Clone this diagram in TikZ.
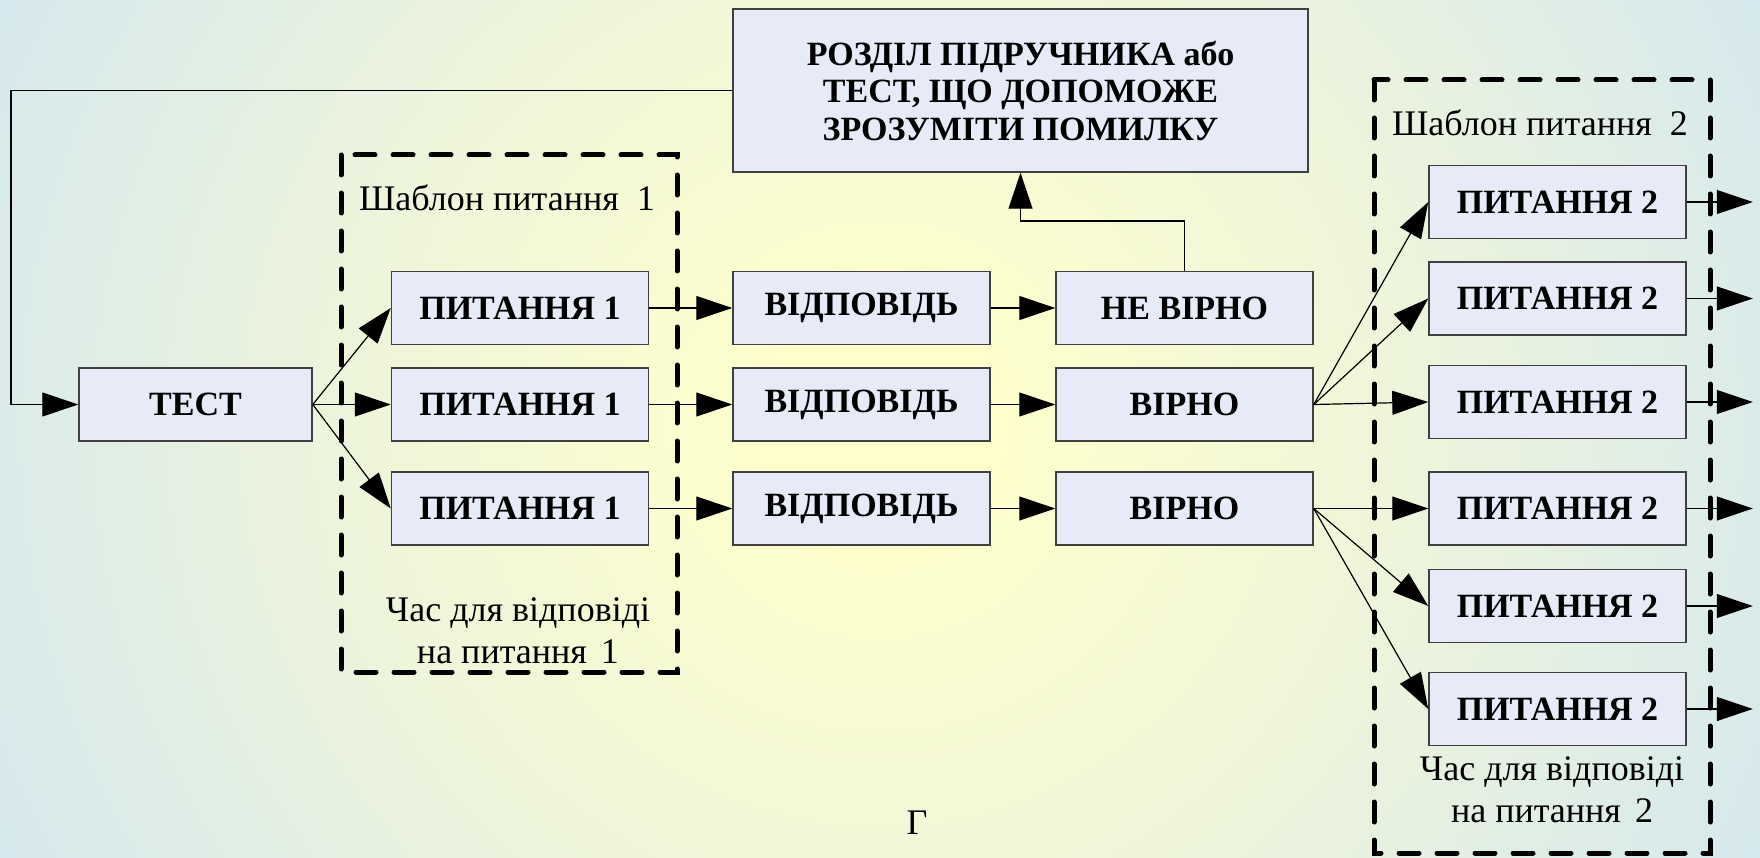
\documentclass[tikz,border=0pt]{standalone}
\usepackage{fontspec}
\setmainfont{Liberation Serif}[BoldFont={Liberation Serif Bold}]
\usetikzlibrary{arrows.meta}
\definecolor{bgin}{HTML}{FFFFCC}
\definecolor{bgmid}{HTML}{EEF5DA}
\definecolor{bgout}{HTML}{CFE5F3}
\definecolor{boxfill}{HTML}{E6EBF7}
\definecolor{boxline}{HTML}{404040}
\pgfdeclareradialshading{bgshade}{\pgfpointorigin}{color(0bp)=(bgin); color(3bp)=(bgin); color(14bp)=(bgmid); color(30bp)=(bgout); color(50bp)=(bgout)}
\begin{document}
\begin{tikzpicture}[x=1pt,y=-1pt,
  box/.style={draw=boxline, line width=1.5pt, fill=boxfill, minimum width=257pt, minimum height=73pt, inner sep=0pt, font=\fontsize{34}{37.5}\selectfont\bfseries},
  arr/.style={draw=black, line width=1.2pt, -{Triangle[length=36pt,width=24pt]}},
  frame/.style={draw=black, line width=5pt, dash pattern=on 20pt off 18pt, line cap=round},
  lbl/.style={font=\fontsize{36}{42}\selectfont, inner sep=0pt, align=center}]
\begin{scope}
\clip (0,0) rectangle (1760,858);
\shade[shading=bgshade] (-40,-471) rectangle (1800,1329);
\end{scope}
\useasboundingbox (0,0) rectangle (1760,858);

% boxes
\node[box, minimum width=575pt, minimum height=163pt, align=center] (top) at (1020.5,90.5) {РОЗДІЛ ПІДРУЧНИКА або\\ТЕСТ, ЩО ДОПОМОЖЕ\\ЗРОЗУМІТИ ПОМИЛКУ};
\node[box, minimum width=233pt] (test) at (195.5,404.5) {ТЕСТ};
\node[box] (q1a) at (520,308) {ПИТАННЯ 1};
\node[box] (q1b) at (520,404.5) {ПИТАННЯ 1};
\node[box] (q1c) at (520,508.5) {ПИТАННЯ 1};
\node[box] (ansa) at (861.5,308) {ВІДПОВІДЬ};
\node[box] (ansb) at (861.5,404.5) {ВІДПОВІДЬ};
\node[box] (ansc) at (861.5,508.5) {ВІДПОВІДЬ};
\node[box] (resa) at (1184.5,308) {НЕ ВІРНО};
\node[box] (resb) at (1184.5,404.5) {ВІРНО};
\node[box] (resc) at (1184.5,508.5) {ВІРНО};
\node[box] (q2a) at (1557.5,202) {ПИТАННЯ 2};
\node[box] (q2b) at (1557.5,298.5) {ПИТАННЯ 2};
\node[box] (q2c) at (1557.5,402) {ПИТАННЯ 2};
\node[box] (q2d) at (1557.5,508.5) {ПИТАННЯ 2};
\node[box] (q2e) at (1557.5,606) {ПИТАННЯ 2};
\node[box] (q2f) at (1557.5,709) {ПИТАННЯ 2};

% dashed frames
\draw[frame] (341,155) rectangle (677,672);
\draw[frame] (1374,80) rectangle (1710,853);

% labels
\node[lbl] (tpl1) at (507,198) {Шаблон питання\hspace{18pt}1};
\node[lbl] (tpl2) at (1540,123) {Шаблон питання\hspace{18pt}2};
\node[lbl] (time1) at (518,631) {Час для відповіді\\на питання\hspace{14pt}1};
\node[lbl] (time2) at (1552,790) {Час для відповіді\\на питання\hspace{14pt}2};
\node[lbl] (g) at (917,823) {Г};

% connectors
\coordinate (fb1) at (11,90.5);
\coordinate (fb2) at (11,404.5);
\draw[arr] (top.west) -- (fb1) -- (fb2) -- (test.west);
\draw[arr] (test.east) -- (q1a.west);
\draw[arr] (test.east) -- (q1b.west);
\draw[arr] (test.east) -- (q1c.west);
\foreach \r in {a,b,c}{
  \draw[arr] (q1\r.east) -- (ans\r.west);
  \draw[arr] (ans\r.east) -- (res\r.west);
}
\coordinate (bend) at (1184.5,221);
\draw[arr] (resa.north) -- (bend) -| (top.south);
\draw[arr] (resb.east) -- (q2a.west);
\draw[arr] (resb.east) -- (q2b.west);
\draw[arr] (resb.east) -- (q2c.west);
\draw[arr] (resc.east) -- (q2d.west);
\draw[arr] (resc.east) -- (q2e.west);
\draw[arr] (resc.east) -- (q2f.west);
\foreach \r in {a,b,c,d,e,f}{
  \draw[arr] (q2\r.east) -- ++(66,0);
}
\end{tikzpicture}
\end{document}
